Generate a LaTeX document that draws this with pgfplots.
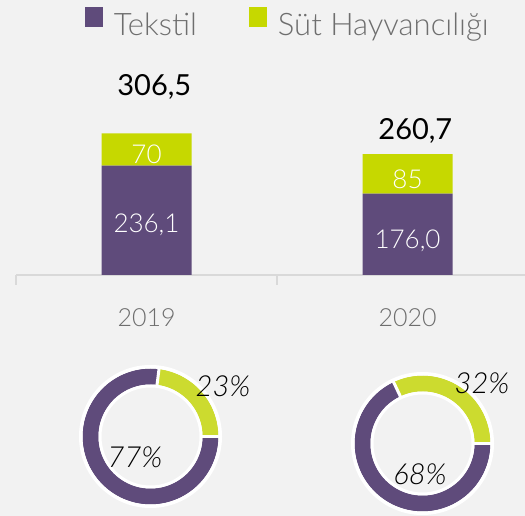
\documentclass[border=0pt]{standalone}
\usepackage{pgfplots}
\pgfplotsset{compat=1.18}
\usepgfplotslibrary{polar}
\usepackage{pgfplotstable}
\usepackage{fontspec}
\setmainfont{Lato Light}
\newfontfamily\latoreg{Lato}
\definecolor{bg}{HTML}{F2F2F2}
\definecolor{tek}{HTML}{5F4B7B}
\definecolor{sut}{HTML}{C6D800}
\definecolor{sutd}{HTML}{CCDB2F}
\definecolor{txt}{HTML}{6E6E6E}
\definecolor{axl}{HTML}{D9D9D9}

\pgfplotstableread{
x tek sut
0 236.1 70
1 176.0 85
}\bars

\begin{document}
\begin{tikzpicture}
\fill[bg] (0,0) rectangle (525pt,516pt);
\useasboundingbox (0,0) rectangle (525pt,516pt);
\begin{axis}[
  at={(16pt,241pt)}, anchor=south west,
  scale only axis, width=509pt, height=231.5pt,
  xmin=-0.5, xmax=1.45, ymin=0, ymax=500,
  ybar stacked, bar width=90pt,
  axis x line=bottom, axis y line=none,
  x axis line style={axl, line width=1.5pt, -},
  xtick={-0.5,0.5}, xticklabels={}, tick align=outside,
  major tick length=10pt, tick style={axl, line width=1.5pt},
  clip=false,
  legend columns=2,
  legend style={at={(0.534,1.166)}, anchor=north, draw=none, fill=none,
    font=\fontsize{31}{31}\selectfont, text=txt,
    /tikz/every odd column/.append style={column sep=9pt},
    /tikz/every even column/.append style={column sep=50pt}},
  legend image code/.code={\fill[#1] (0pt,-2pt) rectangle (18pt,18pt);},
]
\addplot[fill=tek, draw=none] table[x=x,y=tek]{\bars};
\addplot[fill=sut, draw=none] table[x=x,y=sut]{\bars};
\legend{Tekstil, Süt Hayvancılığı}
\coordinate (t19) at (axis cs:0,90.7);
\coordinate (t20) at (axis cs:1,58);
\coordinate (s19) at (axis cs:0,240);
\coordinate (s20) at (axis cs:1,186);
\coordinate (tot19) at (axis cs:0.03,387);
\coordinate (tot20) at (axis cs:1.03,292);
\coordinate (c19) at (axis cs:0,0);
\coordinate (c20) at (axis cs:1,0);
\end{axis}
\node[white, anchor=base, font=\fontsize{26}{26}\selectfont] at (t19) {236,1};
\node[white, anchor=base, font=\fontsize{26}{26}\selectfont] at (t20) {176,0};
\node[white, anchor=base, font=\fontsize{26}{26}\selectfont] at (s19) {70};
\node[white, anchor=base, font=\fontsize{26}{26}\selectfont] at (s20) {85};
\node[black, anchor=base, font=\fontsize{29}{29}\selectfont\latoreg] at (tot19) {306,5};
\node[black, anchor=base, font=\fontsize{29}{29}\selectfont\latoreg] at (tot20) {260,7};
\node[txt, anchor=base, font=\fontsize{25}{25}\selectfont] at ([yshift=-52pt]c19) {2019};
\node[txt, anchor=base, font=\fontsize{25}{25}\selectfont] at ([yshift=-52pt]c20) {2020};

% Donut 2019: 23% / 77%
\begin{polaraxis}[at={(150.5pt,79.5pt)}, anchor=center, scale only axis,
  width=144pt, height=144pt, xmin=0, xmax=360, ymin=0, ymax=72, hide axis, clip=false]
\addplot[sutd, line width=16pt, domain=0:82.8, samples=40] {60};
\addplot[tek, line width=16pt, domain=82.8:360, samples=120] {60};
\addplot[white, line width=3.5pt, domain=0:360, samples=150] {69.75};
\addplot[white, line width=3pt, domain=0:360, samples=150] {50.5};
\addplot[white, line width=3pt] coordinates {(0,50) (0,71)};
\addplot[white, line width=3pt] coordinates {(82.8,50) (82.8,71)};
\end{polaraxis}

% Donut 2020: 32% / 68%
\begin{polaraxis}[at={(422.5pt,72.5pt)}, anchor=center, scale only axis,
  width=144pt, height=144pt, xmin=0, xmax=360, ymin=0, ymax=72, hide axis, clip=false]
\addplot[sutd, line width=16pt, domain=0:115.2, samples=50] {60};
\addplot[tek, line width=16pt, domain=115.2:360, samples=120] {60};
\addplot[white, line width=3.5pt, domain=0:360, samples=150] {69.75};
\addplot[white, line width=3pt, domain=0:360, samples=150] {50.5};
\addplot[white, line width=3pt] coordinates {(0,50) (0,71)};
\addplot[white, line width=3pt] coordinates {(115.2,50) (115.2,71)};
\end{polaraxis}

\node[black, font=\fontsize{29}{29}\selectfont\itshape] at (223pt,130pt) {23\%};
\node[black, font=\fontsize{29}{29}\selectfont\itshape] at (135pt,59pt) {77\%};
\node[black, font=\fontsize{29}{29}\selectfont\itshape] at (482pt,133pt) {32\%};
\node[black, font=\fontsize{29}{29}\selectfont\itshape] at (420pt,42pt) {68\%};
\end{tikzpicture}
\end{document}
